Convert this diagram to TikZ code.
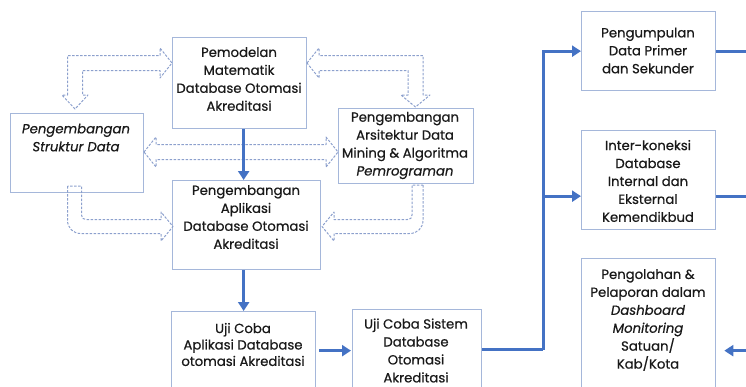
\documentclass[tikz,border=0pt]{standalone}
\usepackage{fontspec}
\setmainfont{Poppins}[FakeBold=0.6]
\usetikzlibrary{arrows.meta,calc}
\definecolor{boxcol}{RGB}{165,183,218}
\definecolor{flowcol}{RGB}{68,114,196}
\definecolor{dashcol}{RGB}{140,160,205}
\begin{document}
\begin{tikzpicture}[x=1bp,y=-1bp,
  box/.style={draw=boxcol,line width=1.3bp,anchor=north west,inner sep=0},
  txt/.style={align=center,font=\fontsize{13.3}{18}\selectfont,inner sep=0,text=black!90},
  itxt/.style={txt,font=\fontsize{13.3}{18}\selectfont\itshape},
  flow/.style={draw=flowcol,line width=3bp,-{Triangle[length=9bp,width=11bp]}},
  plainflow/.style={draw=flowcol,line width=3bp},
  hollow/.style={draw=dashcol,line width=1bp,dash pattern=on 2.5bp off 1.5bp,line join=round}]
\useasboundingbox (0,0) rectangle (746,386);
% boxes
\node[box,minimum width=134bp,minimum height=91bp] (pem) at (172,37) {};
\node[box,minimum width=133bp,minimum height=79bp] (str) at (10,113) {};
\node[box,minimum width=135bp,minimum height=75bp] (ars) at (338,108) {};
\node[box,minimum width=148bp,minimum height=89bp] (apl) at (172,180) {};
\node[box,minimum width=144bp,minimum height=78bp] (uapl) at (171,311) {};
\node[box,minimum width=129bp,minimum height=80bp] (usis) at (352,309) {};
\node[box,minimum width=134bp,minimum height=79bp] (pgm) at (581,11) {};
\node[box,minimum width=134bp,minimum height=99bp] (ik) at (581,130) {};
\node[box,minimum width=134bp,minimum height=184bp] (pol) at (581,258) {};
% texts
\node[txt] (tpem) at (239,79) {Pemodelan\\Matematik\\Database Otomasi\\Akreditasi};
\node[itxt] (tstr) at (76,137.5) {Pengembangan\\Struktur Data};
\node[txt] (tars) at (405,145.5) {Pengembangan\\Arsitektur Data\\Mining \& Algoritma\\\textit{Pemrograman}};
\node[txt] (tapl) at (246,217) {Pengembangan\\Aplikasi\\Database Otomasi\\Akreditasi};
\node[txt,font=\fontsize{13.3}{16.5}\selectfont] (tuapl) at (243,344.5) {Uji Coba\\Aplikasi Database\\otomasi Akreditasi};
\node[txt] (tusis) at (416,350.5) {Uji Coba Sistem\\Database\\Otomasi\\Akreditasi};
\node[txt] (tpgm) at (648,50.5) {Pengumpulan\\Data Primer\\dan Sekunder};
\node[txt] (tik) at (648,181) {Inter-koneksi\\Database\\Internal dan\\Eksternal\\Kemendikbud};
\node[txt] (tpol) at (648,320) {Pengolahan \&\\Pelaporan dalam\\\textit{Dashboard}\\\textit{Monitoring}\\Satuan/\\Kab/Kota};
% hollow dotted block arrows
\draw[hollow] (67.5,95) -- (67.5,55.5) -- (160,55.5) -- (160,48) -- (172,63) -- (160,78) -- (160,70.5) -- (82.5,70.5) -- (82.5,95) -- (88,95) -- (75,109) -- (62,95) -- cycle;
\draw[hollow] (307,63) -- (319,48) -- (319,55.5) -- (423,55.5) -- (423,95) -- (430,95) -- (415.5,107) -- (401,95) -- (408,95) -- (408,70.5) -- (319,70.5) -- (319,78) -- cycle;
\draw[hollow] (144,152) -- (156,137) -- (156,144.5) -- (326,144.5) -- (326,137) -- (338,152) -- (326,167) -- (326,159.5) -- (156,159.5) -- (156,167) -- cycle;
\draw[hollow] (67.5,186) -- (67.5,220) .. controls (67.5,228) and (73,233.5) .. (81,233.5) -- (161,233.5) -- (161,241) -- (173,226.5) -- (161,212) -- (161,219.5) -- (86,219.5) .. controls (83,219.5) and (81.5,218) .. (81.5,215) -- (81.5,186) -- cycle;
\draw[hollow] (423,185) -- (423,220) .. controls (423,228) and (417.5,233.5) .. (409.5,233.5) -- (334,233.5) -- (334,241) -- (322,226.5) -- (334,212) -- (334,219.5) -- (407.5,219.5) .. controls (410.5,219.5) and (412,218) .. (412,215) -- (412,185) -- cycle;
% solid flow
\path ($(pem.south)+(4,0)$) coordinate (a1);
\draw[flow] (a1) -- (a1 |- apl.north);
\draw[flow] (uapl.north |- apl.south) -- (uapl.north);
\draw[flow,shorten <=3bp,shorten >=1bp] (uapl.east) -- (uapl.east -| usis.west);
\coordinate (j) at ($(usis.east)+(61,0)$);
\draw[plainflow] (usis.east) -- (j);
\draw[flow] (j) |- (pgm.west);
\draw[flow] (j) |- ($(ik.west)+(0,16)$);
\coordinate (edge) at (750,0);
\draw[plainflow] (pgm.east) -- (pgm.east -| edge);
\path ($(ik.east)+(0,16)$) coordinate (ike);
\draw[plainflow] (ike) -- (ike -| edge);
\draw[flow] (pol.east -| edge) -- ($(pol.east)+(8,0)$);
\end{tikzpicture}
\end{document}
